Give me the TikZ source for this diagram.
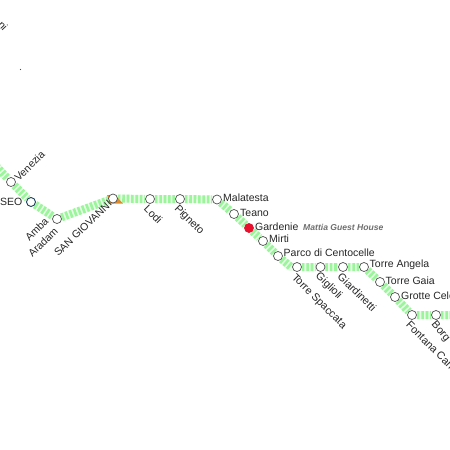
\documentclass[tikz,border=0pt]{standalone}
\usepackage{fontspec}
\setmainfont{Liberation Sans}
\usetikzlibrary{calc}
\pgfdeclarelayer{trackbelow}
\pgfsetlayers{trackbelow,main}
\definecolor{stripegreen}{HTML}{9BF59B}
\definecolor{palegreen}{HTML}{E8FCE8}
\definecolor{ringgrey}{HTML}{505050}
\definecolor{hotelred}{HTML}{E8112D}
\definecolor{hotelgrey}{HTML}{6E6E6E}
\definecolor{changeorange}{HTML}{E08A2C}
\definecolor{seoblue}{HTML}{1C3F5E}
\tikzset{
    station/.style={circle, draw=ringgrey, fill=white, line width=0.7pt, minimum size=9pt, inner sep=0pt},
    track/.style={line width=8pt, draw=palegreen, postaction={draw=stripegreen, dash pattern=on 2.6pt off 1.8pt}},
    lab/.style={font=\fontsize{10.5}{11}\selectfont, text=black!85, inner sep=0pt},
    downlab/.style={lab, font=\fontsize{10.8}{11}\selectfont, anchor=west, rotate=-45}
}
\begin{document}
\begin{tikzpicture}[x=1pt, y=-1pt]
    \useasboundingbox (0,0) rectangle (450,450);

    % triangolo
    \fill[changeorange] (107,195) -- (110,203.5) -- (123,203.5) -- (115,195) -- cycle;

    % fermate
    \node[station] (venezia) at (11,182) {};
    \node[station, draw=seoblue, line width=0.9pt] (seo) at (31,202) {};
    \node[station] (aradam) at (57,219) {};
    \node[station] (giovanni) at (113,198.5) {};
    \node[station] (lodi) at (150,199) {};
    \node[station] (pigneto) at (180,199) {};
    \node[station] (malatesta) at (217,199.5) {};
    \node[station] (teano) at (234,214) {};
    \node[station, draw=hotelred, fill=hotelred] (gardenie) at (249,228) {};
    \node[station] (mirti) at (263,241) {};
    \node[station] (parco) at (278,256) {};
    \node[station] (spaccata) at (297,267) {};
    \node[station] (giglioli) at (320.5,267) {};
    \node[station] (giardinetti) at (343,267) {};
    \node[station] (angela) at (364,267) {};
    \node[station] (gaia) at (380,282) {};
    \node[station] (grotte) at (395,297) {};
    \node[station] (fontana) at (412,315) {};
    \node[station] (borg) at (436,315) {};

    % estremi e angoli
    \coordinate (start) at (-4,166);
    \coordinate (bend) at (291,267);
    \coordinate (end) at (454,315);

    % linea
    \begin{pgfonlayer}{trackbelow}
    \draw[track] (start) -- (venezia) -- (seo) -- (aradam) -- (giovanni) -- (lodi) -- (pigneto) -- (malatesta);
    \draw[track] (malatesta) -- (teano) -- (gardenie) -- (mirti) -- (parco) -- (bend) -- (spaccata);
    \draw[track] (spaccata) -- (giglioli) -- (giardinetti) -- (angela) -- (gaia) -- (grotte) -- (fontana) -- (borg) -- (end);
    \end{pgfonlayer}

    % etichette
    \node[lab, anchor=west, rotate=44] (veneziatxt) at (16,179) {Venezia};
    \node[lab, anchor=east] (seotxt) at (22.5,201.5) {SEO};
    \node[lab, anchor=south east, rotate=45, align=right] (aradamtxt) at (59,232) {Amba\\[2.5pt]Aradam};
    \node[lab, anchor=east, rotate=44] (giovannitxt) at (110,202) {SAN GIOVANNI};
    \node[downlab] (loditxt) at (146,207) {Lodi};
    \node[downlab] (pignetotxt) at (176,207) {Pigneto};
    \node[lab, anchor=west] (malatestatxt) at (223,197.5) {Malatesta};
    \node[lab, anchor=west] (teanotxt) at (240,212.5) {Teano};
    \node[lab, anchor=west] (gardenietxt) at (255,226.5) {Gardenie};
    \node[lab, anchor=west] (mirtitxt) at (269,239) {Mirti};
    \node[lab, anchor=west] (parcotxt) at (283.5,253) {Parco di Centocelle};
    \node[downlab] (spaccatatxt) at (293,276) {Torre Spaccata};
    \node[downlab] (gigliolitxt) at (317,274.5) {Giglioli};
    \node[downlab] (giardinettitxt) at (339.5,274.5) {Giardinetti};
    \node[lab, anchor=west] (angelatxt) at (369.5,265) {Torre Angela};
    \node[lab, anchor=west] (gaiatxt) at (385.5,281) {Torre Gaia};
    \node[lab, anchor=west] (grottetxt) at (401,296) {Grotte Celo};
    \node[downlab] (fontanatxt) at (408,323) {Fontana Can};
    \node[downlab, rotate=-5] (borgtxt) at (433,323) {Borg};
    \node[lab, anchor=east, rotate=-47] (cornertxt) at (6,29) {ni};

    % albergo
    \node[font=\fontsize{8.6}{10}\selectfont\bfseries\itshape, text=hotelgrey, inner sep=0pt, anchor=west] (hotel) at (303,227) {Mattia Guest House};

    % puntino
    \fill[black!70] (20.5,69.5) circle (0.6pt);
\end{tikzpicture}
\end{document}
